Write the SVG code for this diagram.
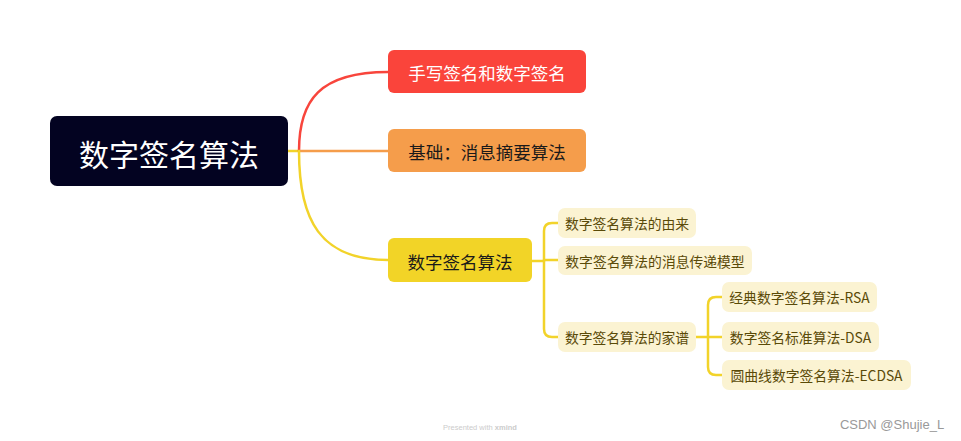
<svg xmlns="http://www.w3.org/2000/svg" width="961" height="441" viewBox="0 0 961 441">
<style>
text{font-family:"Noto Sans CJK SC","Noto Sans",sans-serif;text-anchor:middle;dominant-baseline:central}
.sub rect{fill:#fbf3d2}
.sub text{font-size:13.8px;fill:#5a4a08}
.c{fill:none;stroke-width:2.5;stroke-linecap:round}
.y{stroke:#f2d32a}
</style>
<rect width="961" height="441" fill="#ffffff"/>
<g id="connectors">
<path class="c y" d="M288,151 H299"/>
<path class="c" stroke="#f8453c" d="M299,151 C299,100 320,72 388,72"/>
<path class="c" stroke="#f59d4b" d="M299,151 H388"/>
<path class="c y" d="M299,151 C299,220 320,260 388,260"/>
<path class="c y" d="M532,261 H544"/>
<path class="c y" d="M558,223 H552 Q544,223 544,231 V329 Q544,337 552,337 H558"/>
<path class="c y" d="M544,260 H558"/>
<path class="c y" d="M696,337 H708"/>
<path class="c y" d="M722,297 H716 Q708,297 708,305 V367 Q708,375 716,375 H722"/>
<path class="c y" d="M708,337 H722"/>
</g>
<g id="root">
<rect x="50" y="116" width="238" height="70" rx="7" fill="#030321"/>
<text x="169" y="153" font-size="30" fill="#ffffff">数字签名算法</text>
</g>
<g id="n1">
<rect x="388" y="50" width="198" height="43" rx="6" fill="#fa443b"/>
<text x="487" y="72" font-size="17.5" fill="#ffffff">手写签名和数字签名</text>
</g>
<g id="n2">
<rect x="388" y="129" width="198" height="43" rx="6" fill="#f59d4b"/>
<text x="487" y="151" font-size="17.5" fill="#1a1a1a">基础：消息摘要算法</text>
</g>
<g id="n3">
<rect x="388" y="238" width="144" height="44" rx="6" fill="#f2d427"/>
<text x="460" y="261" font-size="17.5" fill="#1a1a1a">数字签名算法</text>
</g>
<g id="n3a" class="sub">
<rect x="558" y="208" width="138" height="30" rx="7"/>
<text x="627" y="223">数字签名算法的由来</text>
</g>
<g id="n3b" class="sub">
<rect x="558" y="246" width="194" height="29" rx="7"/>
<text x="655" y="260.5">数字签名算法的消息传递模型</text>
</g>
<g id="n3c" class="sub">
<rect x="558" y="322" width="138" height="30" rx="7"/>
<text x="627" y="337">数字签名算法的家谱</text>
</g>
<g id="n3c1" class="sub">
<rect x="722" y="282" width="155" height="30" rx="7"/>
<text x="799.5" y="297">经典数字签名算法-RSA</text>
</g>
<g id="n3c2" class="sub">
<rect x="722" y="322" width="157" height="30" rx="7"/>
<text x="800.5" y="337">数字签名标准算法-DSA</text>
</g>
<g id="n3c3" class="sub">
<rect x="722" y="360" width="189" height="30" rx="7"/>
<text x="816.5" y="375">圆曲线数字签名算法-ECDSA</text>
</g>
<text x="480" y="427" font-size="7.5" fill="#cccccc" style="font-family:'Liberation Sans',sans-serif">Presented with <tspan font-weight="bold">xmind</tspan></text>
<text x="892" y="424" font-size="13" fill="#999999" style="font-family:'Liberation Sans',sans-serif">CSDN @Shujie_L</text>
</svg>
